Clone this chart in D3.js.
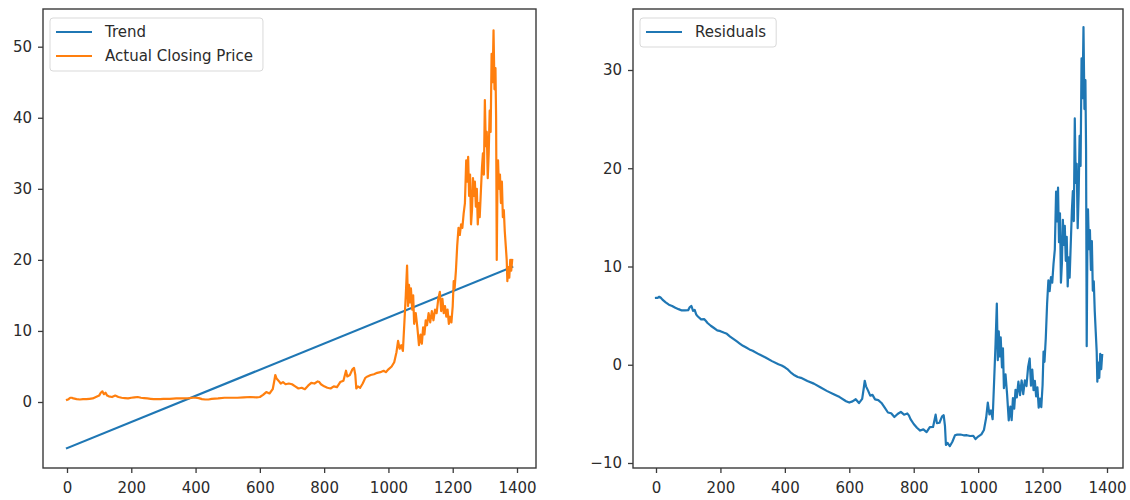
<!DOCTYPE html>
<html>
<head>
<meta charset="utf-8">
<script src="https://cdn.jsdelivr.net/npm/d3@7"></script>
<style>
  html, body { margin: 0; padding: 0; background: #fff; }
  svg { display: block; }
  text { font-family: "DejaVu Sans", sans-serif; }
</style>
</head>
<body>
<svg id="chart" width="1130" height="500"></svg>
<script>
// ---------------- data ----------------
const days = [0,5,10,15,20,30,40,50,60,70,80,90,100,105,110,115,120,125,130,140,150,155,160,170,180,190,200,210,220,230,240,250,260,270,280,290,300,320,340,360,380,390,400,410,420,430,440,450,470,490,510,530,550,570,590,600,610,620,630,640,645,648,652,658,665,672,680,690,700,710,720,730,740,750,760,770,780,785,790,800,810,820,830,840,850,860,868,872,880,888,893,897,900,905,912,920,928,935,945,955,965,975,985,992,1000,1010,1018,1025,1030,1035,1040,1045,1050,1054,1058,1061,1064,1067,1070,1074,1077,1080,1085,1090,1095,1100,1104,1108,1112,1116,1120,1125,1130,1135,1140,1145,1150,1155,1160,1164,1168,1172,1176,1180,1184,1188,1192,1196,1200,1203,1206,1210,1214,1218,1222,1226,1230,1234,1238,1242,1245,1248,1251,1254,1257,1260,1263,1266,1269,1272,1275,1278,1281,1284,1288,1291,1294,1297,1300,1303,1306,1309,1312,1315,1318,1321,1324,1327,1330,1333,1335,1337,1339,1341,1344,1347,1350,1353,1356,1359,1362,1365,1368,1370,1373,1376,1379,1382,1385];

const closingPrice = [0.3,0.4,0.6,0.6,0.5,0.4,0.35,0.4,0.4,0.45,0.5,0.7,0.9,1.3,1.5,1.1,1.3,0.9,0.8,0.7,0.9,0.8,0.7,0.6,0.55,0.5,0.6,0.65,0.7,0.6,0.55,0.5,0.45,0.4,0.4,0.4,0.45,0.45,0.5,0.5,0.55,0.6,0.6,0.55,0.4,0.35,0.35,0.45,0.5,0.6,0.6,0.6,0.65,0.7,0.65,0.7,1.0,1.4,1.2,1.8,3.0,3.8,3.3,3.0,2.6,2.8,2.5,2.6,2.5,2.2,1.9,2.0,1.8,2.3,2.7,2.6,2.9,2.8,2.5,2.2,2.0,1.9,2.2,2.1,2.8,3.0,4.4,3.6,3.8,4.6,4.8,3.8,1.9,2.2,2.0,2.6,3.4,3.6,3.8,3.9,4.1,4.2,4.4,4.2,4.6,5.0,5.6,7.0,8.6,7.5,8.0,7.2,11.5,15,19.2,13.5,16.5,14,16,13,15,11,12.5,10.5,8,9.5,8.2,10.5,9.5,11.5,10.8,12.5,11.2,12.8,11.5,13,12.5,14.5,15.5,12.8,14.5,12.5,13.5,12,13,11,12,11.2,13.5,17,16,18.5,22,24.5,23.5,25,24.5,26.5,28,34,31,34.5,29,32,25,27,31.5,29,31,27.5,30,25,28,26,30,33,35,32,42.5,36,38,31.5,35,41,38,49,45,52.3,44,47,40,20,30,34,30,32,28,31,26,27,24,22,20,17,19,17.5,20,18.5,20];

const residuals = [6.8,6.81,6.92,6.82,6.63,6.35,6.11,5.98,5.8,5.66,5.53,5.54,5.56,5.87,5.98,5.48,5.59,5.1,4.91,4.62,4.64,4.45,4.25,3.97,3.74,3.5,3.42,3.28,3.15,2.87,2.63,2.4,2.16,1.93,1.75,1.56,1.43,1.06,0.74,0.37,0.05,-0.08,-0.26,-0.5,-0.83,-1.07,-1.25,-1.33,-1.65,-1.92,-2.29,-2.66,-2.98,-3.29,-3.71,-3.85,-3.73,-3.51,-3.9,-3.48,-2.37,-1.63,-2.2,-2.61,-3.14,-3.07,-3.52,-3.6,-3.89,-4.37,-4.86,-4.94,-5.32,-5.01,-4.79,-5.08,-4.96,-5.15,-5.54,-6.03,-6.41,-6.7,-6.58,-6.86,-6.35,-6.33,-5.08,-5.95,-5.9,-5.25,-5.14,-6.21,-8.17,-7.96,-8.29,-7.84,-7.18,-7.11,-7.1,-7.18,-7.17,-7.25,-7.23,-7.56,-7.31,-7.09,-6.64,-5.37,-3.86,-5.05,-4.65,-5.54,-1.33,2.1,6.22,0.47,3.41,0.86,2.8,-0.27,1.67,-2.38,-0.98,-3.07,-5.66,-4.25,-5.63,-3.4,-4.47,-2.55,-3.32,-1.71,-3.1,-1.6,-2.99,-1.58,-2.17,-0.26,0.64,-2.13,-0.5,-2.58,-1.65,-3.22,-2.3,-4.37,-3.45,-4.32,-2.09,1.35,0.3,2.72,6.15,8.58,7.5,8.93,8.36,10.28,11.71,17.63,14.58,18.02,12.47,15.41,8.36,10.3,14.75,12.19,14.14,10.58,13.03,7.97,10.92,8.86,12.79,15.73,17.68,14.62,25.07,18.51,20.46,13.9,17.35,23.29,20.24,31.18,27.13,34.37,26.02,28.96,21.92,1.89,11.85,15.81,11.76,13.7,9.65,12.59,7.54,8.48,5.43,3.37,1.32,-1.72,0.22,-1.33,1.11,-0.44,1.0];

const trendDays = [0, 1385];
const trendValues = [-6.5, 19.0];

const xTickValues = [0, 200, 400, 600, 800, 1000, 1200, 1400];
const leftYTicks = [0, 10, 20, 30, 40, 50];
const rightYTicks = [-10, 0, 10, 20, 30];

const leftLegend = ["Trend", "Actual Closing Price"];
const rightLegend = ["Residuals"];

const BLUE = "#1f77b4", ORANGE = "#ff7f0e";

// ---------------- drawing ----------------
const svg = d3.select("#chart");
const FONT = 15;

function fmt(v) { return v < 0 ? "\u2212" + Math.abs(v) : String(v); }

function panel(cfg) {
  const g = svg.append("g");
  const x = d3.scaleLinear().domain([0, 1400]).range(cfg.xr);
  const y = d3.scaleLinear().domain(cfg.yd).range(cfg.yr);

  cfg.series.forEach(s => {
    const pts = s.xs.map((d, i) => [d, s.ys[i]]);
    g.append("path")
      .datum(pts)
      .attr("fill", "none")
      .attr("stroke", s.color)
      .attr("stroke-width", 2.2)
      .attr("stroke-linejoin", "round")
      .attr("stroke-linecap", "square")
      .attr("d", d3.line().x(d => x(d[0])).y(d => y(d[1])));
  });

  const xa = g.append("g").attr("transform", `translate(0,${cfg.box[3]})`)
    .call(d3.axisBottom(x).tickValues(xTickValues).tickSize(5).tickPadding(9).tickFormat(fmt));
  const ya = g.append("g").attr("transform", `translate(${cfg.box[0]},0)`)
    .call(d3.axisLeft(y).tickValues(cfg.yTicks).tickSize(5).tickPadding(6).tickFormat(fmt));
  [xa, ya].forEach(a => {
    a.select(".domain").remove();
    a.selectAll("line").attr("stroke", "#3a3a3a").attr("stroke-width", 1.3);
    a.selectAll("text").attr("font-size", FONT).attr("fill", "#2b2b2b")
      .attr("font-family", "DejaVu Sans, sans-serif");
  });

  g.append("rect")
    .attr("x", cfg.box[0]).attr("y", cfg.box[1])
    .attr("width", cfg.box[2] - cfg.box[0]).attr("height", cfg.box[3] - cfg.box[1])
    .attr("fill", "none").attr("stroke", "#3a3a3a").attr("stroke-width", 1.4);

  const lg = g.append("g");
  const lx = cfg.box[0] + 7, ly = cfg.box[1] + 9;
  const rowH = 24;
  const items = cfg.legend;
  const texts = [];
  items.forEach((it, i) => {
    const cy = ly + 14 + i * rowH;
    lg.append("line").attr("x1", lx + 6).attr("x2", lx + 42)
      .attr("y1", cy).attr("y2", cy).attr("stroke", it.color).attr("stroke-width", 2.2);
    const t = lg.append("text").attr("x", lx + 55).attr("y", cy)
      .attr("dy", "0.35em").attr("font-size", FONT).attr("fill", "#2b2b2b")
      .text(it.label);
    texts.push(t);
  });
  const maxW = d3.max(texts, t => t.node().getComputedTextLength());
  lg.insert("rect", ":first-child")
    .attr("x", lx).attr("y", ly)
    .attr("width", 55 + maxW + 10)
    .attr("height", 6 + items.length * rowH - 1)
    .attr("rx", 3).attr("ry", 3)
    .attr("fill", "#fff").attr("fill-opacity", 0.85)
    .attr("stroke", "#d9d9d9").attr("stroke-width", 1);
}

panel({
  box: [43, 9, 536, 468],
  xr: [67, 517],
  yd: [0, 50], yr: [402, 46.7],
  yTicks: leftYTicks,
  series: [
    { xs: trendDays, ys: trendValues, color: BLUE },
    { xs: days, ys: closingPrice, color: ORANGE }
  ],
  legend: [ { label: leftLegend[0], color: BLUE }, { label: leftLegend[1], color: ORANGE } ]
});

panel({
  box: [633, 9, 1123, 468],
  xr: [656, 1107],
  yd: [-10, 30], yr: [463, 70],
  yTicks: rightYTicks,
  series: [ { xs: days, ys: residuals, color: BLUE } ],
  legend: [ { label: rightLegend[0], color: BLUE } ]
});
</script>
</body>
</html>
